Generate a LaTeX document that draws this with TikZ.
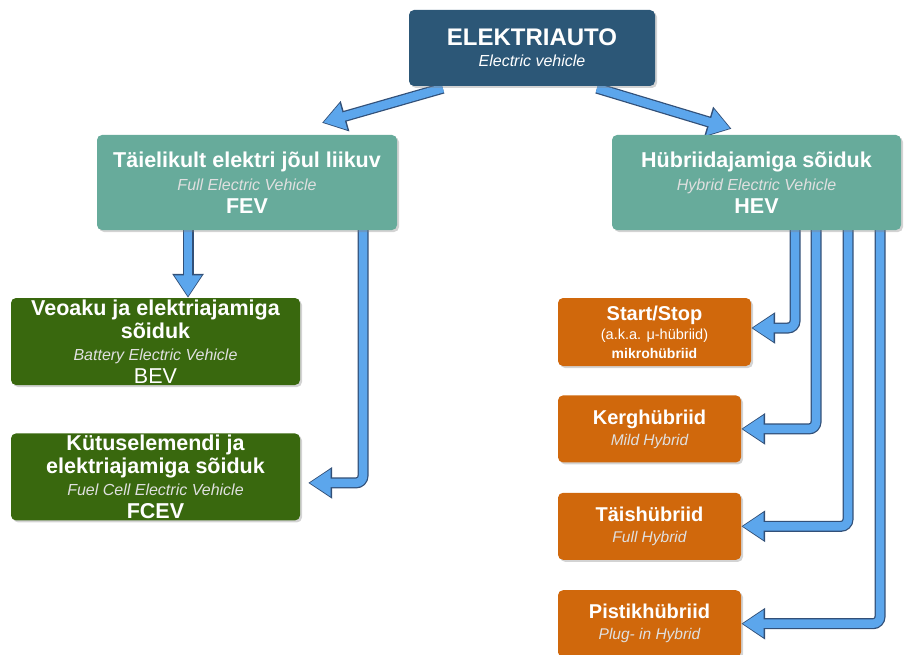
\documentclass[tikz,border=0pt]{standalone}
\usepackage{fontspec}
\setmainfont{Liberation Sans}
\usetikzlibrary{arrows.meta,positioning,shadows,backgrounds}
\definecolor{autoblue}{RGB}{44,87,119}
\definecolor{classteal}{RGB}{103,171,155}
\definecolor{fevgreen}{RGB}{57,104,14}
\definecolor{hevorange}{RGB}{208,104,12}
\definecolor{arrowfill}{RGB}{92,166,236}
\definecolor{arrowedge}{RGB}{50,80,120}
\newcommand{\engl}[1]{{\fontsize{16}{17}\selectfont\mdseries\itshape\color{white!88!black}#1}}
\newcommand{\englsmall}[1]{{\fontsize{15.5}{17}\selectfont\mdseries\itshape\color{white!88!black}#1}}
\tikzset{
  box/.style={rounded corners=5pt, align=center, text=white, inner sep=2pt,
              drop shadow={opacity=0.35, shadow xshift=2pt, shadow yshift=-2pt}},
  topbox/.style={box, fill=autoblue, minimum width=246pt, minimum height=76pt,
                 font=\fontsize{24}{24}\selectfont\bfseries},
  classbox/.style={box, fill=classteal, minimum height=95pt,
                   font=\fontsize{21.5}{23}\selectfont\bfseries},
  fevbox/.style={box, fill=fevgreen, minimum width=289pt, minimum height=87pt,
                 inner ysep=0pt, font=\fontsize{21.5}{22.5}\selectfont\bfseries},
  hevbox/.style={box, fill=hevorange, minimum width=183pt, minimum height=67pt,
                 font=\fontsize{20}{21}\selectfont\bfseries},
  blockarrow/.style={draw=arrowfill, line width=8.5pt, rounded corners=7pt,
                     shorten >=1.5pt,
                     -{Triangle[length=21pt, width=26pt]},
                     preaction={draw=arrowedge, line width=11pt, shorten >=0pt,
                                -{Triangle[length=24pt, width=30pt]}}},
}
\begin{document}
\begin{tikzpicture}[x=1pt, y=-1pt, node distance=29pt and 20pt]
  \useasboundingbox (0,0) rectangle (904,655);
  \node[topbox] (auto) at (532,48)
    {ELEKTRIAUTO\\[-3pt]{\fontsize{16}{17}\selectfont\mdseries\itshape Electric vehicle}};
  \node[classbox, minimum width=300pt] (fev) at (247,182.5)
    {Täielikult elektri jõul liikuv\\\engl{Full Electric Vehicle}\\FEV};
  \node[classbox, minimum width=289pt] (hev) at (756.5,182.5)
    {Hübriidajamiga sõiduk\\\engl{Hybrid Electric Vehicle}\\HEV};
  \node[fevbox] (bev) at (155.5,341.5)
    {Veoaku ja elektriajamiga\\sõiduk\\\engl{Battery Electric Vehicle}\\{\mdseries BEV}};
  \node[fevbox, below=48pt of bev] (fcev)
    {Kütuselemendi ja\\elektriajamiga sõiduk\\\engl{Fuel Cell Electric Vehicle}\\FCEV};
  \node[hevbox, minimum width=193pt, minimum height=68pt] (startstop) at (654.5,332)
    {Start/Stop\\[-2pt]{\fontsize{14.5}{16}\selectfont\mdseries (a.k.a. μ-hübriid)}\\[-2pt]
     {\fontsize{14}{15}\selectfont mikrohübriid}};
  \node[hevbox, below=of startstop.south west, anchor=north west] (mild)
    {Kerghübriid\\\englsmall{Mild Hybrid}};
  \node[hevbox, below=30pt of mild] (full) {Täishübriid\\\englsmall{Full Hybrid}};
  \node[hevbox, below=30pt of full] (plugin) {Pistikhübriid\\\englsmall{Plug- in Hybrid}};
  \begin{scope}[on background layer]
    \draw[blockarrow] ([xshift=34pt,yshift=-2pt]auto.south west)
      -- ([xshift=75pt,yshift=12pt]fev.north);
    \draw[blockarrow] ([xshift=65pt,yshift=-2pt]auto.south)
      -- ([xshift=-25pt,yshift=6pt]hev.north);
    \draw[blockarrow] ([xshift=-59pt]fev.south) -- ([xshift=-59pt]fev.south |- bev.north);
    \draw[blockarrow] ([xshift=116pt]fev.south) |- ([xshift=8pt,yshift=-6pt]fcev.east);
    \draw[blockarrow] ([xshift=38.5pt]hev.south) |- ([yshift=4pt]startstop.east);
    \draw[blockarrow] ([xshift=59.5pt]hev.south) |- (mild.east);
    \draw[blockarrow] ([xshift=91.5pt]hev.south) |- (full.east);
    \draw[blockarrow] ([xshift=123.5pt]hev.south) |- (plugin.east);
  \end{scope}
\end{tikzpicture}
\end{document}
